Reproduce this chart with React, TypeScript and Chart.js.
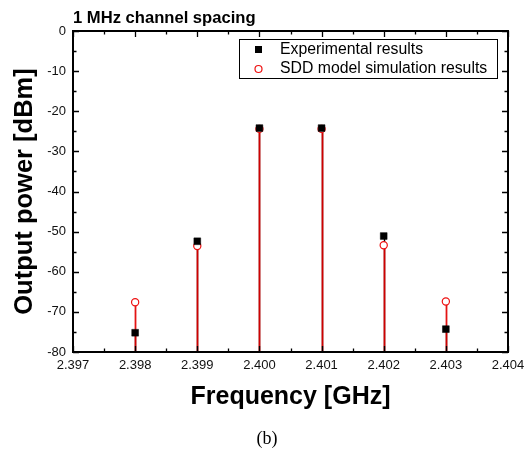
import React, { useEffect, useRef } from "react";
import { Chart, registerables } from "chart.js";

Chart.register(...registerables);

// ---- data ----
const FREQUENCIES = [2.398, 2.399, 2.4, 2.401, 2.402, 2.403];
const EXPERIMENTAL = [-75.2, -52.4, -24.2, -24.2, -51.1, -74.3];
const SIMULATION = [-67.6, -53.6, -24.4, -24.4, -53.4, -67.4];
const SERIES_LABELS = ["Experimental results", "SDD model simulation results"];
const X_MIN = 2.397;
const X_MAX = 2.404;
const X_STEP = 0.001;
const Y_MIN = -80;
const Y_MAX = 0;
const Y_STEP = 10;
const CHART_TITLE = "1 MHz channel spacing";
const X_TITLE = "Frequency [GHz]";
const Y_TITLE = "Output power [dBm]";
const CAPTION = "(b)";

const FONT = "'Liberation Sans', Arial, Helvetica, sans-serif";
const RED = "#ee1111";

const decorPlugin = {
  id: "decor",
  beforeDatasetsDraw(chart: any) {
    const { ctx } = chart;
    const y = chart.scales.y;
    const base = y.getPixelForValue(Y_MIN);
    const stemColors = ["#000000", "rgba(225,0,0,0.92)"];
    const stemWidths = [1.4, 1.8];
    ctx.save();
    chart.data.datasets.forEach((_ds: any, i: number) => {
      const meta = chart.getDatasetMeta(i);
      ctx.strokeStyle = stemColors[i];
      ctx.lineWidth = stemWidths[i];
      meta.data.forEach((pt: any) => {
        ctx.beginPath();
        ctx.moveTo(Math.round(pt.x) + 0.5, pt.y);
        ctx.lineTo(Math.round(pt.x) + 0.5, base);
        ctx.stroke();
      });
    });
    ctx.restore();
  },
  afterDraw(chart: any) {
    const { ctx, chartArea } = chart;
    const { left, right, top, bottom } = chartArea;
    const xs = chart.scales.x;
    const ys = chart.scales.y;
    ctx.save();
    // frame
    ctx.strokeStyle = "#000";
    ctx.lineWidth = 2;
    ctx.strokeRect(left, top, right - left, bottom - top);
    // ticks
    const MAJ = 6;
    const MIN = 3.5;
    ctx.lineWidth = 1.3;
    const xt = xs.ticks.map((t: any) => t.value);
    ctx.beginPath();
    xt.forEach((v: number, i: number) => {
      const px = Math.round(xs.getPixelForValue(v)) + 0.5;
      ctx.moveTo(px, bottom);
      ctx.lineTo(px, bottom - MAJ);
      ctx.moveTo(px, top);
      ctx.lineTo(px, top + MAJ);
      if (i < xt.length - 1) {
        const mx = Math.round(xs.getPixelForValue((v + xt[i + 1]) / 2)) + 0.5;
        ctx.moveTo(mx, bottom);
        ctx.lineTo(mx, bottom - MIN);
        ctx.moveTo(mx, top);
        ctx.lineTo(mx, top + MIN);
      }
    });
    const yt = ys.ticks.map((t: any) => t.value);
    yt.forEach((v: number, i: number) => {
      const py = Math.round(ys.getPixelForValue(v)) + 0.5;
      ctx.moveTo(left, py);
      ctx.lineTo(left + MAJ, py);
      ctx.moveTo(right, py);
      ctx.lineTo(right - MAJ, py);
      if (i < yt.length - 1) {
        const my = Math.round(ys.getPixelForValue((v + yt[i + 1]) / 2)) + 0.5;
        ctx.moveTo(left, my);
        ctx.lineTo(left + MIN, my);
        ctx.moveTo(right, my);
        ctx.lineTo(right - MIN, my);
      }
    });
    ctx.stroke();

    // chart title
    ctx.fillStyle = "#000";
    ctx.font = `bold 16.6px ${FONT}`;
    ctx.textAlign = "left";
    ctx.textBaseline = "alphabetic";
    ctx.fillText(CHART_TITLE, left, 23);

    // legend
    const lx = right - 269;
    const ly = top + 8;
    const lw = 258;
    const lh = 39;
    ctx.fillStyle = "#fff";
    ctx.fillRect(lx, ly, lw, lh);
    ctx.strokeStyle = "#000";
    ctx.lineWidth = 1;
    ctx.strokeRect(lx + 0.5, ly + 0.5, lw, lh);
    ctx.font = `15.8px ${FONT}`;
    ctx.textBaseline = "middle";
    chart.data.datasets.forEach((ds: any, i: number) => {
      const cy = ly + 10.5 + i * 19.5;
      const cx = lx + 19.5;
      if (ds.pointStyle === "rect") {
        ctx.fillStyle = "#000";
        ctx.fillRect(cx - 3.5, cy - 3.5, 7, 7);
      } else {
        ctx.beginPath();
        ctx.arc(cx, cy, 3.5, 0, Math.PI * 2);
        ctx.fillStyle = "#fff";
        ctx.fill();
        ctx.strokeStyle = RED;
        ctx.lineWidth = 1.2;
        ctx.stroke();
      }
      ctx.fillStyle = "#000";
      ctx.fillText(ds.label, lx + 41, cy);
    });
    ctx.restore();
  },
};

export default function App() {
  const canvasRef = useRef<HTMLCanvasElement | null>(null);

  useEffect(() => {
    if (!canvasRef.current) return;
    const chart = new Chart(canvasRef.current, {
      type: "scatter",
      data: {
        datasets: [
          {
            label: SERIES_LABELS[0],
            data: FREQUENCIES.map((f, i) => ({ x: f, y: EXPERIMENTAL[i] })),
            pointStyle: "rect",
            pointRadius: 4.8,
            pointBackgroundColor: "#000",
            pointBorderColor: "#000",
            pointBorderWidth: 0.5,
            showLine: false,
          },
          {
            label: SERIES_LABELS[1],
            data: FREQUENCIES.map((f, i) => ({ x: f, y: SIMULATION[i] })),
            pointStyle: "circle",
            pointRadius: 3.6,
            pointBackgroundColor: "#fff",
            pointBorderColor: RED,
            pointBorderWidth: 1.2,
            showLine: false,
          },
        ],
      },
      options: {
        animation: false,
        responsive: false,
        devicePixelRatio: 1,
        layout: { padding: { top: 31, right: 23, left: 0, bottom: 0 } },
        plugins: {
          legend: { display: false },
          title: { display: false },
          tooltip: { enabled: false },
        },
        scales: {
          x: {
            type: "linear",
            min: X_MIN,
            max: X_MAX,
            ticks: {
              stepSize: X_STEP,
              autoSkip: false,
              maxRotation: 0,
              padding: 6,
              color: "#111",
              font: { family: FONT, size: 13 },
              callback: (v: any) => Number(v).toFixed(3),
            },
            grid: { display: false, drawTicks: false },
            border: { display: false },
            title: {
              display: true,
              text: X_TITLE,
              color: "#000",
              font: { family: FONT, size: 25, weight: "bold" },
              padding: { top: 0, bottom: 40 },
            },
            afterFit: (s: any) => {
              s.height = 100;
            },
          },
          y: {
            type: "linear",
            min: Y_MIN,
            max: Y_MAX,
            ticks: {
              stepSize: Y_STEP,
              padding: 7,
              color: "#111",
              font: { family: FONT, size: 13 },
            },
            grid: { display: false, drawTicks: false },
            border: { display: false },
            title: {
              display: true,
              text: Y_TITLE,
              color: "#000",
              font: { family: FONT, size: 25.5, weight: "bold" },
              padding: { top: 10, bottom: 0 },
            },
            afterFit: (s: any) => {
              s.width = 73;
            },
          },
        },
      },
      plugins: [decorPlugin],
    } as any);
    return () => chart.destroy();
  }, []);

  return (
    <div style={{ position: "absolute", left: 0, top: 0, width: 531, height: 452, background: "#fff" }}>
      <canvas ref={canvasRef} width={531} height={452} style={{ display: "block", width: 531, height: 452 }} />
      <div
        style={{
          position: "absolute",
          left: 0,
          width: 534,
          top: 427,
          textAlign: "center",
          fontFamily: "'Liberation Serif', 'DejaVu Serif', serif",
          fontSize: 18,
          lineHeight: "22px",
          color: "#000",
        }}
      >
        {CAPTION}
      </div>
    </div>
  );
}
